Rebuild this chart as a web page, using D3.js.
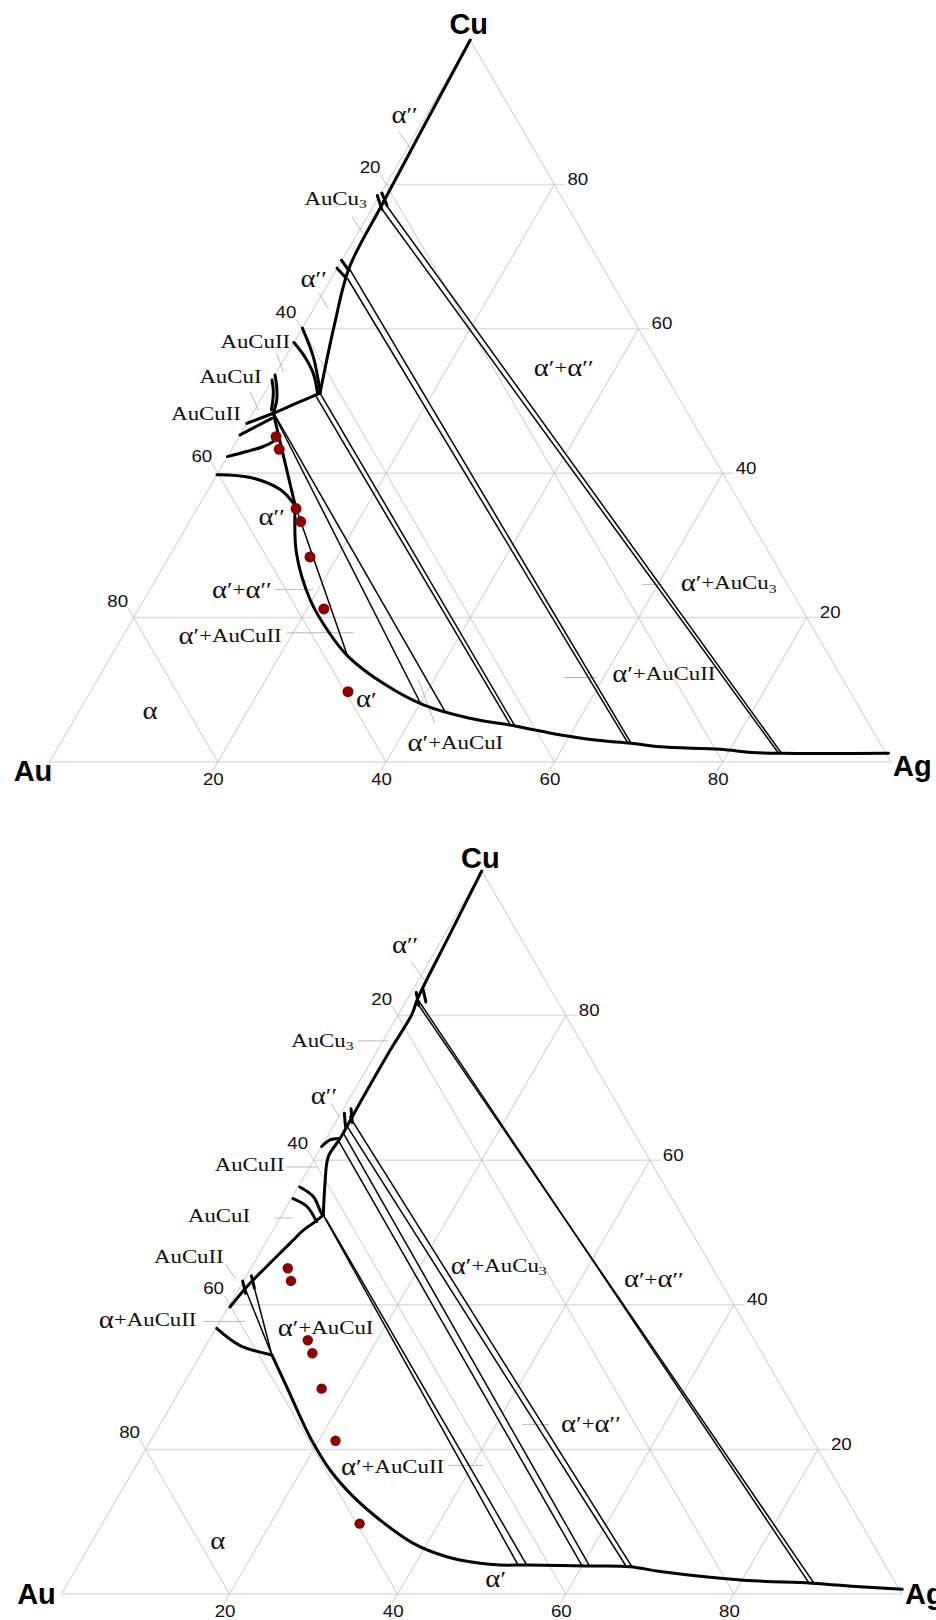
<!DOCTYPE html>
<html>
<head>
<meta charset="utf-8">
<script src="https://cdn.jsdelivr.net/npm/d3@7"></script>
<style>
  body { margin: 0; background: #fff; }
  svg { display: block; }
</style>
</head>
<body>
<svg id="chart" width="936" height="1620"></svg>
<script>
// Au–Ag–Cu isothermal sections. Every composition is [at.% Ag, at.% Cu]; Au is the balance.

const gridValues = [20, 40, 60, 80];

// alloy compositions studied (same set in both sections)
const sampleDots = [
  [4.4, 45.05], [5.65, 43.3], [11.75, 35.1], [13.2, 33.3],
  [16.75, 28.4], [22.0, 21.2], [30.6, 9.74]
];

// ---------- upper section ----------
const upperPhaseBoundaries = [
  [[0, 100], [0.9, 77.5], [1.4, 68.4], [3.6, 60.5], [6.6, 51.1]],
  [[0, 60.1], [3.3, 56.1], [6.5, 51.3]],
  [[0, 58.1], [2.3, 56.1], [4.45, 53.8], [6.3, 51.1]],
  [[6.6, 51.1], [4.5, 49.7], [2.45, 48.3]],
  [[0, 53.6], [1.0, 52.0], [1.95, 50.1], [2.45, 48.3]],
  [[0, 52.9], [1.05, 51.1], [2.0, 48.75]],
  [[2.45, 48.3], [0, 46.9]],
  [[2.6, 47.6], [0, 45.3]],
  [[4.6, 44.8], [4.4, 44.4], [3.55, 43.7], [1.9, 43.0], [0, 42.3]],
  [[2.45, 48.3], [11.45, 35.5]],
  [[0, 39.8], [4.2, 39.4], [8.6, 37.7], [11.45, 35.5]],
  [[11.45, 35.5], [14.9, 28.9], [19.8, 22.4], [24.4, 17.8], [28.2, 14.6], [34.2, 10.9],
   [40.5, 7.9], [46.9, 6.05], [52.8, 5.0], [58.9, 3.74], [63.6, 3.0], [67.8, 2.6],
   [71.5, 2.1], [78.8, 1.76], [82.8, 1.33], [86.4, 1.2], [99.1, 1.2]]
];
const upperTieLines = [
  [[11.45, 35.5], [28.3, 14.4]],
  [[2.45, 48.3], [40.15, 8.0]],
  [[2.7, 48.1], [43.45, 7.05]],
  [[6.6, 51.1], [52.8, 5.0]],
  [[6.3, 50.7], [52.2, 5.14]],
  [[1.4, 68.4], [67.8, 2.6]],
  [[1.9, 67.0], [67.4, 2.65]],
  [[0.7, 77.8], [86.4, 1.2]],
  [[1.2, 76.6], [86.0, 1.25]]
];
const upperTickMarks = [
  [[-0.28, 78.46], [1.22, 76.55]],
  [[0.1, 78.8], [1.55, 77.1]],
  [[-0.05, 69.5], [1.5, 68.1]],
  [[-0.03, 68.4], [1.5, 67.2]]
];
const upperLabels = [
  ["α′′", -2.6, 89.6], ["AuCu_3", -5.0, 78.0], ["α′′", -2.1, 67.0],
  ["AuCuII", -4.7, 58.3], ["AuCuI", -5.2, 53.4], ["AuCuII", -5.55, 48.3],
  ["α′′", 9.4, 34.0], ["α′+α′′", 10.9, 23.9], ["α′+AuCuII", 12.7, 17.5],
  ["α", 8.4, 7.1], ["α′", 33.3, 8.7], ["α′+AuCuI", 46.9, 2.67],
  ["α′+AuCuII", 66.9, 12.2], ["α′+AuCu_3", 68.3, 24.8], ["α′+α′′", 33.8, 54.6]
];
const upperLeaders = [
  [[-2.15, 87.3], [0.73, 84.7]], [[-1.8, 75.5], [0.65, 73.2]], [[-0.4, 64.9], [1.74, 62.8]],
  [[-1.3, 56.6], [0.75, 54.06]], [[-1.8, 51.3], [0.44, 48.75]],
  [[14.85, 23.9], [19.4, 23.9]], [[19.24, 17.9], [27.15, 17.9]],
  [[38.15, 11.36], [43.1, 5.36]], [[55.3, 11.7], [59.2, 11.7]], [[58.1, 24.6], [60.57, 24.6]]
];

// ---------- lower section ----------
const lowerPhaseBoundaries = [
  [[0, 100], [0.6, 91.0], [1.2, 82.35], [1.6, 80.2], [1.5, 75.2], [1.55, 67.5],
   [1.64, 63.0], [1.5, 60.5], [2.95, 56.8], [4.95, 52.4]],
  [[0, 61.9], [0.55, 62.8], [1.45, 63.0]],
  [[0.2, 56.3], [2.5, 54.95], [4.6, 52.65], [4.95, 52.4]],
  [[0.2, 54.7], [2.4, 53.6], [4.6, 51.5]],
  [[4.95, 52.4], [4.3, 51.3], [3.6, 50.3], [3.1, 48.96], [2.6, 47.6], [1.76, 45.3], [0.8, 42.5], [0.2, 39.7]],
  [[0.1, 36.75], [4.0, 34.4], [8.5, 33.06]],
  [[8.5, 33.06], [12.45, 28.67], [16.97, 23.6], [19.54, 20.84], [23.37, 17.15], [27.99, 13.46],
   [32.77, 10.24], [38.35, 7.01], [43.25, 5.16], [47.67, 4.25], [50.17, 4.01], [53.35, 4.01],
   [60.55, 3.87], [65.75, 3.78], [69.7, 3.1], [80.2, 1.9], [88.5, 1.5], [94.5, 1.0], [99.7, 0.65]]
];
const lowerTieLines = [
  [[0.6, 42.4], [8.5, 33.06]],
  [[1.3, 43.0], [8.5, 33.06]],
  [[4.95, 52.4], [52.3, 4.03]],
  [[5.5, 51.9], [53.35, 4.01]],
  [[1.4, 62.9], [60.0, 3.88]],
  [[1.8, 63.6], [60.9, 3.86]],
  [[0.9, 65.4], [65.3, 3.8]],
  [[1.2, 66.1], [66.0, 3.75]],
  [[1.2, 82.3], [88.2, 1.5]],
  [[1.6, 81.6], [88.8, 1.48]]
];
const lowerTickMarks = [
  [[0.6, 83.2], [1.8, 81.4]], [[1.3, 83.5], [2.4, 81.9]],
  [[0.4, 66.5], [1.5, 64.6]], [[0.9, 67.1], [2.0, 65.2]],
  [[-0.1, 43.3], [1.1, 41.6]], [[0.6, 44.0], [1.8, 42.3]]
];
const lowerLabels = [
  ["α′′", -4.0, 89.76], ["AuCu_3", -7.25, 76.57], ["α′′", -3.25, 68.95],
  ["AuCuII", -7.3, 59.35], ["AuCuI", -7.45, 52.37], ["AuCuII", -8.2, 46.7],
  ["α′+AuCu_3", 29.3, 45.45], ["α′+α′′", 48.7, 43.54], ["α+AuCuII", -8.7, 37.9],
  ["α′+AuCuI", 13.0, 36.85], ["α′+α′′", 51.2, 23.57], ["α′+AuCuII", 30.6, 17.57],
  ["α", 14.9, 7.41], ["α′", 50.6, 2.12]
];
const lowerLeaders = [
  [[-2.15, 87.5], [0.7, 84.9]], [[-2.95, 76.5], [0.6, 76.5]], [[-1.9, 67.9], [-0.05, 66.1]],
  [[-2.75, 59.06], [0.8, 59.06]], [[-0.65, 52.0], [1.5, 52.0]], [[-3.3, 45.64], [-1.05, 43.57]],
  [[-2.0, 37.7], [2.96, 37.7]], [[43.1, 23.43], [46.3, 23.43]], [[37.07, 17.79], [41.3, 17.79]]
];

// ---------- drawing ----------
const svg = d3.select("#chart");

const panels = [
  { frame: { left: 49.5, right: 891, base: 762, top: 40 },
    boundaries: upperPhaseBoundaries, ties: upperTieLines, marks: upperTickMarks,
    labels: upperLabels, leaders: upperLeaders, dotR: 5.5,
    vertex: { Au: [-16.5, 9], Ag: [2, 4], Cu: [-1.5, -16] } },
  { frame: { left: 61.5, right: 902, base: 1594, top: 871 },
    boundaries: lowerPhaseBoundaries, ties: lowerTieLines, marks: lowerTickMarks,
    labels: lowerLabels, leaders: lowerLeaders, dotR: 5.2,
    vertex: { Au: [-25, 0], Ag: [3, 0], Cu: [-1.3, -13.5] } }
];

const SX = 1.17; // horizontal stretch of the lettering

// split a region label into runs: Greek letters and primes a little larger, "_3" as subscript
function labelRuns(txt) {
  const runs = [];
  const [main, sub] = txt.split("_");
  for (const ch of main) {
    const size = ch === "α" ? 24.5 : ch === "′" ? 22 : 19.5;
    const last = runs[runs.length - 1];
    if (last && last.size === size) last.text += ch;
    else runs.push({ text: ch, size });
  }
  if (sub) runs.push({ text: sub, size: 13.5, dy: 5 });
  return runs;
}

function drawPanel(p) {
  const f = p.frame;
  const x = d3.scaleLinear().domain([0, 100]).range([f.left, f.right]);
  const y = d3.scaleLinear().domain([0, 100]).range([f.base, f.top]);
  const px = c => [x(c[0] + c[1] / 2), y(c[1])];
  const straight = d3.line().x(c => px(c)[0]).y(c => px(c)[1]);
  const smooth = d3.line().x(c => px(c)[0]).y(c => px(c)[1]).curve(d3.curveCatmullRom.alpha(0.5));

  const g = svg.append("g");
  const grid = g.append("g").attr("fill", "none");
  const ext = 1.3;

  // constant-Cu lines (horizontal) with tick to the right
  [0, ...gridValues].forEach(v => {
    grid.append("path")
      .attr("d", straight([[0, v], [100 - v + (v ? ext : 0), v]]))
      .attr("stroke", "#dedede").attr("stroke-width", 1.5);
  });
  // constant-Ag lines with tick below the base
  gridValues.forEach(v => {
    grid.append("path")
      .attr("d", straight([[v, -ext], [v, 100 - v]]))
      .attr("stroke", "#bdbdbd").attr("stroke-width", 0.8);
  });
  // constant-Au lines with tick beyond the Au–Cu side
  gridValues.forEach(v => {
    grid.append("path")
      .attr("d", straight([[100 - v, 0], [-ext, 100 - v + ext]]))
      .attr("stroke", "#bdbdbd").attr("stroke-width", 0.8);
  });
  // triangle sides
  grid.append("path").attr("d", straight([[0, 0], [0, 100]])).attr("stroke", "#bdbdbd").attr("stroke-width", 0.8);
  grid.append("path").attr("d", straight([[100, 0], [0, 100]])).attr("stroke", "#bdbdbd").attr("stroke-width", 0.8);

  // leader lines for region labels
  g.append("g").selectAll("path").data(p.leaders).join("path")
    .attr("d", straight).attr("fill", "none").attr("stroke", "#aaa").attr("stroke-width", 0.8);

  // axis numbers
  const num = g.append("g").attr("font-family", "'Liberation Sans', Arial, sans-serif")
    .attr("font-size", 16).attr("fill", "#111");
  gridValues.forEach(v => {
    const b = px([v, 0]);          // Ag scale along the base
    num.append("text").text(v).attr("text-anchor", "middle").attr("dominant-baseline", "central")
      .attr("transform", `translate(${b[0] - 4.5},${b[1] + 17.5}) scale(${SX},1)`);
    const l = px([0, 100 - v]);    // Au scale along the Au–Cu side
    num.append("text").text(v).attr("text-anchor", "middle").attr("dominant-baseline", "central")
      .attr("transform", `translate(${l[0] - 16},${l[1] - 16.5}) scale(${SX},1)`);
    const r = px([100 - v, v]);    // Cu scale along the Ag–Cu side
    num.append("text").text(v).attr("text-anchor", "start")
      .attr("transform", `translate(${r[0] + 13},${r[1] + 0.5}) scale(${SX},1)`);
  });

  // tie lines and thin boundaries
  g.append("g").selectAll("path").data(p.ties).join("path")
    .attr("d", straight).attr("fill", "none").attr("stroke", "#000").attr("stroke-width", 1.5);

  // phase boundaries
  g.append("g").selectAll("path").data(p.boundaries).join("path")
    .attr("d", smooth).attr("fill", "none").attr("stroke", "#000")
    .attr("stroke-width", 3).attr("stroke-linejoin", "round").attr("stroke-linecap", "round");

  // short strokes marking tie-line ends
  g.append("g").selectAll("path").data(p.marks).join("path")
    .attr("d", straight).attr("fill", "none").attr("stroke", "#000")
    .attr("stroke-width", 3).attr("stroke-linecap", "round");

  // region labels
  const lab = g.append("g").attr("font-family", "'Liberation Serif', 'Times New Roman', serif")
    .attr("fill", "#111");
  p.labels.forEach(([txt, ag, cu]) => {
    const c = px([ag, cu]);
    const t = lab.append("text").attr("text-anchor", "middle").attr("dominant-baseline", "central")
      .attr("font-size", 19.5)
      .attr("transform", `translate(${c[0]},${c[1]}) scale(${SX},1)`);
    labelRuns(txt).forEach(r => {
      const s = t.append("tspan").text(r.text).attr("font-size", r.size);
      if (r.dy) s.attr("dy", r.dy);
    });
  });

  // sample compositions
  g.append("g").selectAll("circle").data(sampleDots).join("circle")
    .attr("cx", c => px(c)[0]).attr("cy", c => px(c)[1]).attr("r", p.dotR).attr("fill", "#8b0000");

  // corner elements
  const vt = g.append("g").attr("font-family", "'Liberation Sans', Arial, sans-serif")
    .attr("font-weight", "bold").attr("font-size", 29).attr("fill", "#000")
    .attr("dominant-baseline", "central");
  const au = px([0, 0]), ag = px([100, 0]), cu = px([0, 100]);
  vt.append("text").text("Au").attr("text-anchor", "middle")
    .attr("x", au[0] + p.vertex.Au[0]).attr("y", au[1] + p.vertex.Au[1]);
  vt.append("text").text("Ag").attr("text-anchor", "start")
    .attr("x", ag[0] + p.vertex.Ag[0]).attr("y", ag[1] + p.vertex.Ag[1]);
  vt.append("text").text("Cu").attr("text-anchor", "middle")
    .attr("x", cu[0] + p.vertex.Cu[0]).attr("y", cu[1] + p.vertex.Cu[1]);
}

panels.forEach(drawPanel);
</script>
</body>
</html>
